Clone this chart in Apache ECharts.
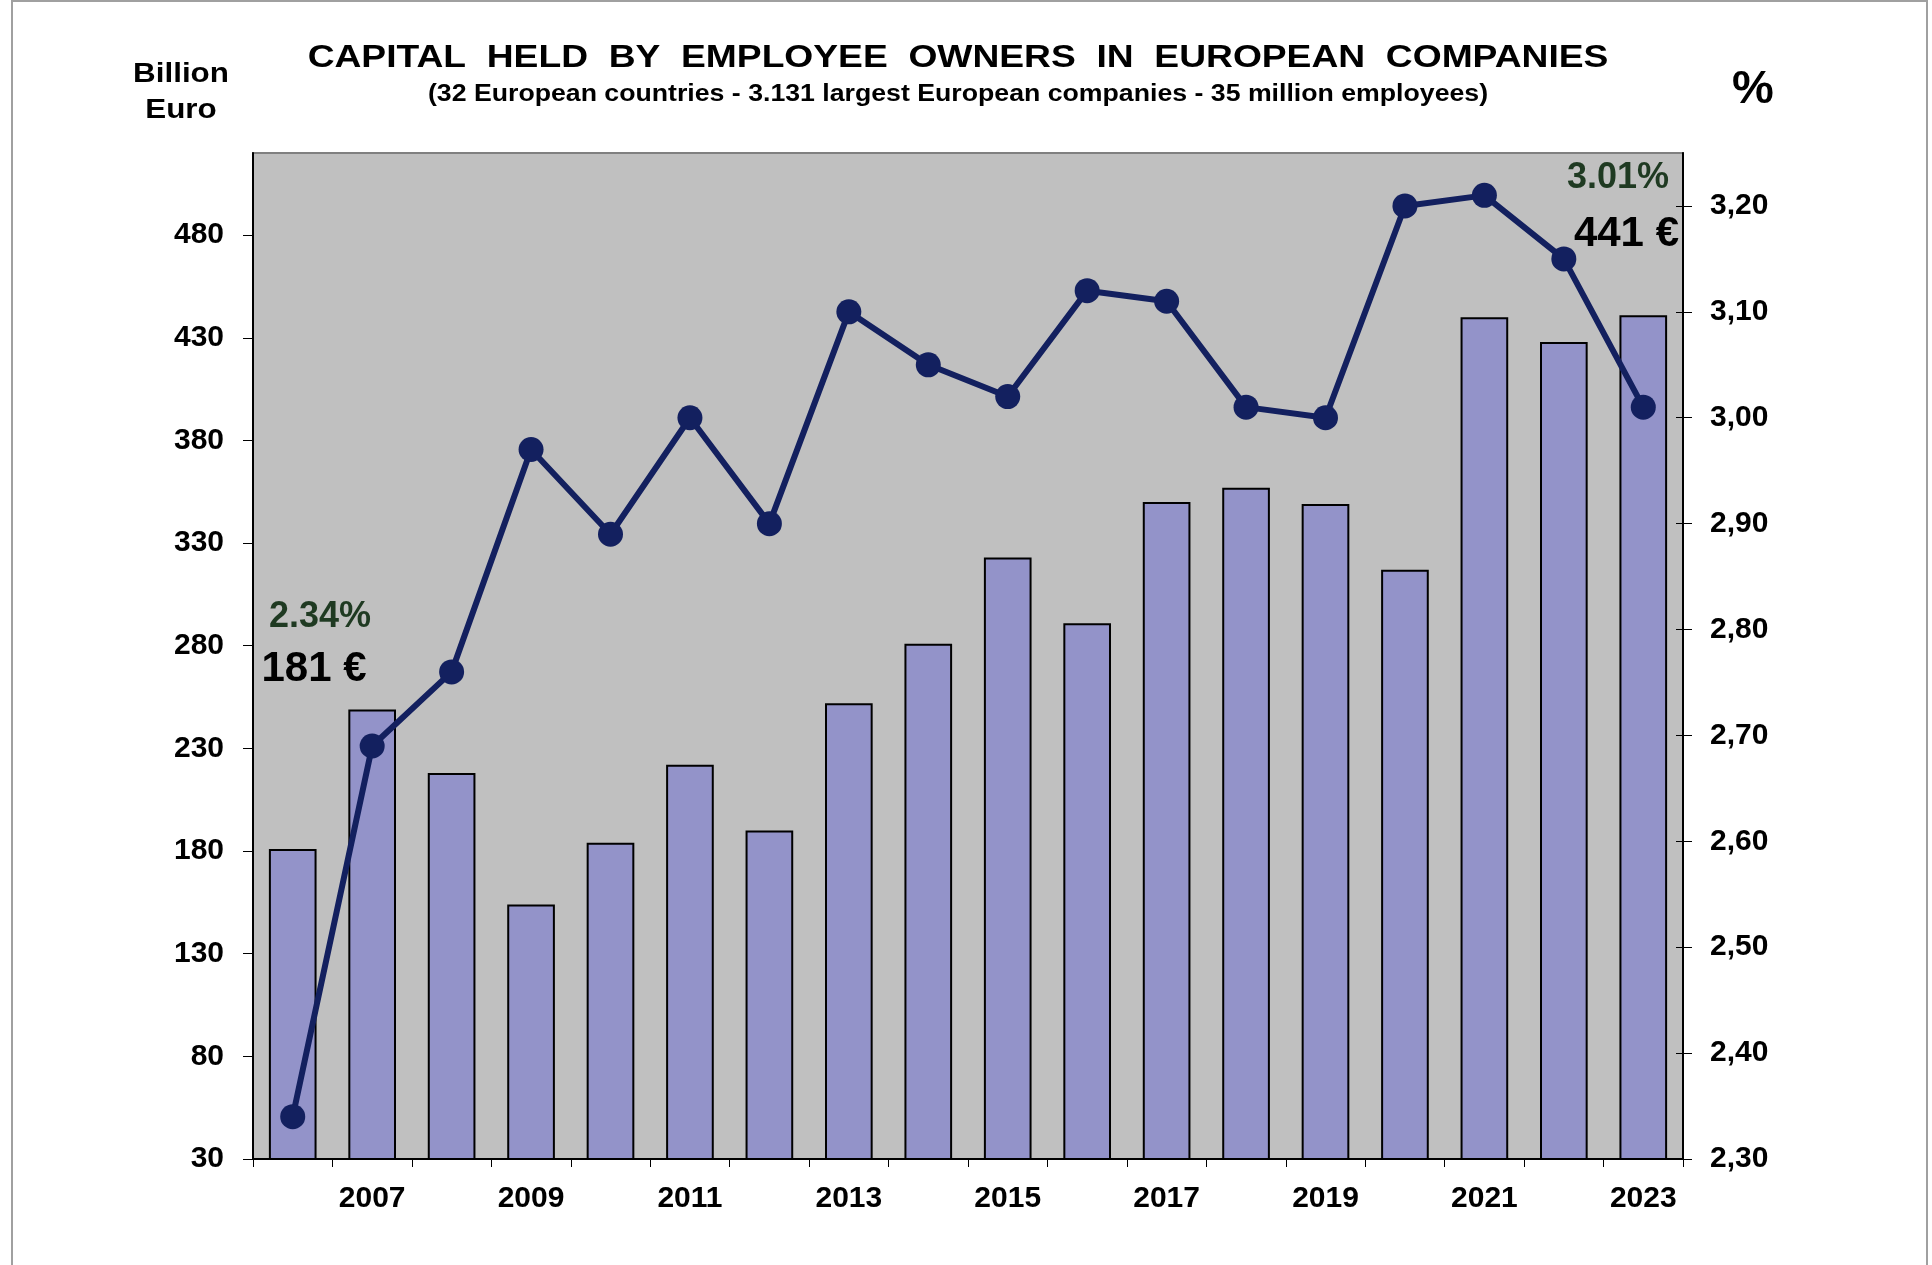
<!DOCTYPE html>
<html style="height: 100%; width: 100%;">
<head>
  <meta charset="UTF-8">
  <title>Capital held by employee owners</title>
  <script src="https://cdn.jsdelivr.net/npm/echarts@6/dist/echarts.min.js"></script>
</head>
<body style="height: 100%; margin: 0; background: #fff;">
  <div id="main" style="width: 1932px; height: 1265px;"></div>
  <script type="text/javascript">
    // data
    var years = ['2006', '2007', '2008', '2009', '2010', '2011', '2012', '2013', '2014',
      '2015', '2016', '2017', '2018', '2019', '2020', '2021', '2022', '2023'];
    var capital = [181, 249, 218, 154, 184, 222, 190, 252, 281, 323, 291, 350, 357, 349, 317, 440, 428, 441];
    var percent = [2.34, 2.69, 2.76, 2.97, 2.89, 3.00, 2.90, 3.10, 3.05, 3.02, 3.12, 3.11, 3.01, 3.00, 3.20, 3.21, 3.15, 3.01];
    var leftTicks = [30, 80, 130, 180, 230, 280, 330, 380, 430, 480];
    var rightTicks = [2.3, 2.4, 2.5, 2.6, 2.7, 2.8, 2.9, 3.0, 3.1, 3.2];

    var font = '"Liberation Sans", Arial, sans-serif';
    var chart = echarts.init(document.getElementById('main'), null, { renderer: 'canvas' });

    var labelStyle = { color: '#000', fontWeight: 'bold', fontSize: 30, fontFamily: font };

    var options = {
      animation: false,
      backgroundColor: '#fff',
      grid: {
        left: 253, right: 249, top: 153, bottom: 106,
        show: true,
        backgroundColor: '#c0c0c0',
        borderColor: '#808080',
        borderWidth: 2
      },
      xAxis: {
        type: 'category',
        data: years,
        boundaryGap: true,
        axisLine: { lineStyle: { color: '#000', width: 2 } },
        axisTick: { show: true, interval: 0, length: 8, lineStyle: { color: '#000', width: 1 } },
        axisLabel: Object.assign({
          interval: function (i) { return i % 2 === 1; },
          margin: 25
        }, labelStyle),
        splitLine: { show: false }
      },
      yAxis: [
        {
          type: 'value',
          min: 30,
          max: 520,
          position: 'left',
          axisLine: { show: true, lineStyle: { color: '#000', width: 2 } },
          axisTick: { show: true, length: 10, customValues: leftTicks, lineStyle: { color: '#000', width: 1 } },
          axisLabel: Object.assign({ margin: 29, customValues: leftTicks }, labelStyle),
          splitLine: { show: false }
        },
        {
          type: 'value',
          min: 2.3,
          max: 3.25,
          position: 'right',
          axisLine: { show: true, lineStyle: { color: '#000', width: 2 } },
          axisTick: { show: true, length: 9, customValues: rightTicks, lineStyle: { color: '#000', width: 1 } },
          axisLabel: Object.assign({
            margin: 27,
            customValues: rightTicks,
            formatter: function (v) { return v.toFixed(2).replace('.', ','); }
          }, labelStyle),
          splitLine: { show: false }
        },
        {
          // inner half of the right ticks (they cross the axis line)
          type: 'value',
          min: 2.3,
          max: 3.25,
          position: 'right',
          axisLine: { show: false },
          axisTick: { show: true, inside: true, length: 7, customValues: rightTicks, lineStyle: { color: '#000', width: 1 } },
          axisLabel: { show: false },
          splitLine: { show: false }
        }
      ],
      series: [
        {
          type: 'bar',
          data: capital,
          barWidth: '60%',
          itemStyle: { color: '#9393c9', borderColor: '#000', borderWidth: 2 }
        },
        {
          type: 'line',
          yAxisIndex: 1,
          data: percent,
          symbol: 'circle',
          symbolSize: 25,
          lineStyle: { color: '#13205f', width: 6 },
          itemStyle: { color: '#13205f' },
          z: 5
        }
      ],
      graphic: [
        { type: 'rect', silent: true, z: -1, shape: { x: 12, y: 1, width: 1915, height: 1270 },
          style: { fill: 'none', stroke: '#a0a0a0', lineWidth: 2 } },
        { type: 'text', x: 958, y: 58, scaleX: 1.2, style: { text: 'CAPITAL  HELD  BY  EMPLOYEE  OWNERS  IN  EUROPEAN  COMPANIES',
          font: 'bold 31px ' + font, fill: '#000', textAlign: 'center', textVerticalAlign: 'middle' } },
        { type: 'text', x: 958, y: 95, scaleX: 1.16, style: { text: '(32 European countries - 3.131 largest European companies - 35 million employees)',
          font: 'bold 23px ' + font, fill: '#000', textAlign: 'center', textVerticalAlign: 'middle' } },
        { type: 'text', x: 181, y: 74, scaleX: 1.12, style: { text: 'Billion', font: 'bold 28px ' + font, fill: '#000',
          textAlign: 'center', textVerticalAlign: 'middle' } },
        { type: 'text', x: 181, y: 110, scaleX: 1.12, style: { text: 'Euro', font: 'bold 28px ' + font, fill: '#000',
          textAlign: 'center', textVerticalAlign: 'middle' } },
        { type: 'text', x: 1753, y: 90, style: { text: '%', font: 'bold 47px ' + font, fill: '#000',
          textAlign: 'center', textVerticalAlign: 'middle' } },
        { type: 'text', x: 320, y: 617, z: 10, style: { text: '2.34%', font: 'bold 36px ' + font, fill: '#1f3a22',
          textAlign: 'center', textVerticalAlign: 'middle' } },
        { type: 'text', x: 314, y: 669, z: 10, style: { text: '181 €', font: 'bold 42px ' + font, fill: '#000',
          textAlign: 'center', textVerticalAlign: 'middle' } },
        { type: 'text', x: 1669, y: 178, z: 10, style: { text: '3.01%', font: 'bold 36px ' + font, fill: '#1f3a22',
          textAlign: 'right', textVerticalAlign: 'middle' } },
        { type: 'text', x: 1679, y: 234, z: 10, style: { text: '441 €', font: 'bold 42px ' + font, fill: '#000',
          textAlign: 'right', textVerticalAlign: 'middle' } }
      ]
    };
    chart.setOption(options);
  </script>
</body>
</html>
